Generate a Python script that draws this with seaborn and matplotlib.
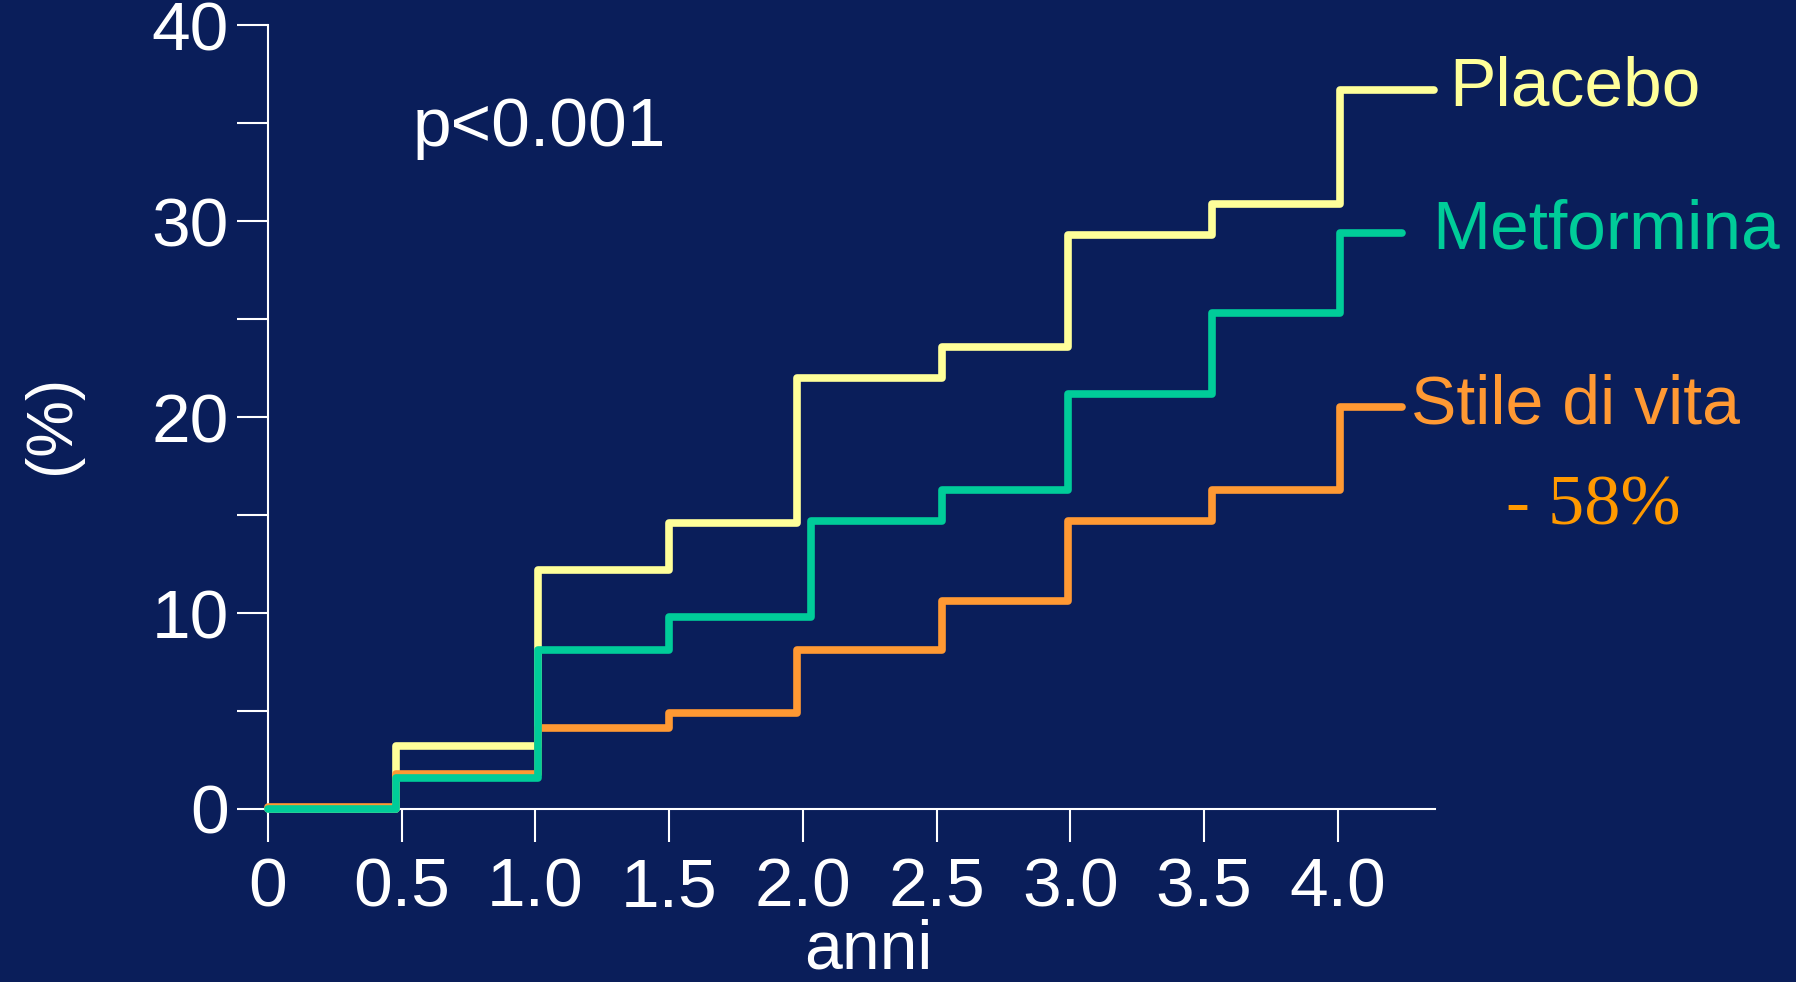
import pandas as pd
import matplotlib.pyplot as plt
import seaborn as sns

# values (cumulative incidence, %)
placebo_x = [0, 0.48, 1.01, 1.50, 1.98, 2.52, 2.99, 3.53, 4.01, 4.36]
placebo_y = [0, 3.2, 12.2, 14.6, 22.0, 23.6, 29.3, 30.9, 36.7, 36.7]

metformina_x = [0, 0.48, 1.01, 1.50, 2.03, 2.52, 2.99, 3.53, 4.01, 4.24]
metformina_y = [0, 1.6, 8.1, 9.8, 14.7, 16.3, 21.2, 25.3, 29.4, 29.4]

stile_x = [0, 0.48, 1.01, 1.50, 1.98, 2.52, 2.99, 3.53, 4.01, 4.24]
stile_y = [0.1, 1.8, 4.15, 4.9, 8.1, 10.6, 14.7, 16.3, 20.5, 20.5]

x_ticks = [0, 0.5, 1.0, 1.5, 2.0, 2.5, 3.0, 3.5, 4.0]
x_tick_labels = ["0", "0.5", "1.0", "1.5", "2.0", "2.5", "3.0", "3.5", "4.0"]
y_ticks = [0, 10, 20, 30, 40]
y_minor = [5, 15, 25, 35]

bg = "#0a1e5a"
c_placebo = "#ffff99"
c_metf = "#00cc99"
c_stile = "#ff9933"

sns.set_style("ticks", {"axes.facecolor": bg, "figure.facecolor": bg,
                        "axes.edgecolor": "white", "xtick.color": "white",
                        "ytick.color": "white", "text.color": "white"})
plt.rcParams["font.family"] = ["Liberation Sans", "DejaVu Sans"]

fig = plt.figure(figsize=(17.96, 9.82), dpi=100)
ax = fig.add_axes([0.1492, 0.1762, 0.799 - 0.1492, 0.9743 - 0.1762])

df_p = pd.DataFrame({"anni": placebo_x, "pct": placebo_y})
df_m = pd.DataFrame({"anni": metformina_x, "pct": metformina_y})
df_s = pd.DataFrame({"anni": stile_x, "pct": stile_y})

lw = 5.5
sns.lineplot(data=df_p, x="anni", y="pct", ax=ax, color=c_placebo, lw=lw,
             drawstyle="steps-post", clip_on=False, zorder=3)
sns.lineplot(data=df_s, x="anni", y="pct", ax=ax, color=c_stile, lw=lw,
             drawstyle="steps-post", clip_on=False, zorder=4)
sns.lineplot(data=df_m, x="anni", y="pct", ax=ax, color=c_metf, lw=lw,
             drawstyle="steps-post", clip_on=False, zorder=5)

ax.set_xlim(0, 4.364)
ax.set_ylim(0, 40)
ax.set_xticks(x_ticks)
ax.set_xticklabels(x_tick_labels)
ax.set_yticks(y_ticks)
ax.set_yticks(y_minor, minor=True)
ax.tick_params(axis="x", length=24, width=1.5, labelsize=50, pad=10)
ax.tick_params(axis="y", which="both", length=22, width=1.5, labelsize=50, pad=6)
ax.set_xlabel("")
ax.set_ylabel("")
sns.despine(ax=ax)
for s in ["left", "bottom"]:
    ax.spines[s].set_linewidth(1.5)

fig.text(0.4834, 0.014, "anni", fontsize=49, ha="center", va="baseline")
fig.text(0.0287, 0.568, "(%)", fontsize=46, ha="center", va="center", rotation=90)
fig.text(0.2296, 0.8518, "p<0.001", fontsize=50, ha="left", va="baseline")

fig.text(0.8068, 0.8926, "Placebo", fontsize=50, color=c_placebo, ha="left", va="baseline")
fig.text(0.7972, 0.7468, "Metformina", fontsize=50, color=c_metf, ha="left", va="baseline")
fig.text(0.7857, 0.5683, "Stile di vita", fontsize=49, color=c_stile, ha="left", va="baseline")
fig.text(0.8386, 0.4656, "- 58%", fontsize=52, color="#ff9900", ha="left", va="baseline",
         family=["Liberation Serif", "DejaVu Serif"])

fig.savefig("out.png", dpi=100, facecolor=bg)
